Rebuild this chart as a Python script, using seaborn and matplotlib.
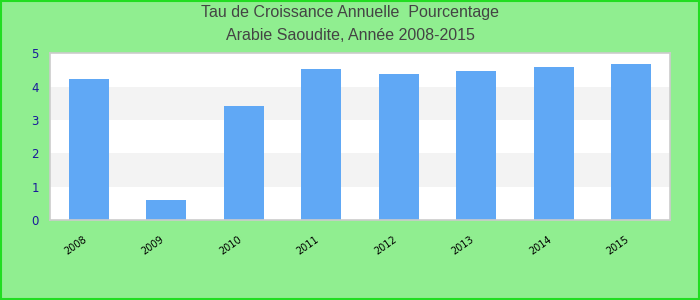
import matplotlib
matplotlib.use("Agg")
import matplotlib.pyplot as plt
import matplotlib.transforms as mtransforms
import seaborn as sns
import pandas as pd

years = ["2008", "2009", "2010", "2011", "2012", "2013", "2014", "2015"]
values = [4.23, 0.60, 3.42, 4.53, 4.38, 4.47, 4.60, 4.68]
yticks = [0, 1, 2, 3, 4, 5]

df = pd.DataFrame({"year": years, "value": values})

sns.set_style("white")
fig = plt.figure(figsize=(7, 3), dpi=100, facecolor="#90ee90")
ax = fig.add_axes([50/700, 80/300, 620/700, 166.7/300])
ax.set_facecolor("white")

# alternating bands
for i in range(0, 5):
    if i % 2 == 1:
        ax.axhspan(i, i + 1, color="#f3f3f3", zorder=0, lw=0)

sns.barplot(data=df, x="year", y="value", color="#60a8f5", saturation=1,
            width=0.52, ax=ax, zorder=2, linewidth=0, edgecolor="none")

ax.set_ylim(0, 5)
ax.set_xlim(-0.5, len(years) - 0.5)
ax.set_yticks(yticks)
ax.set_yticklabels([str(t) for t in yticks], color="#1a1a9a", fontsize=8.5,
                   family="DejaVu Sans")
ax.set_xticks(range(len(years)))
ax.set_xticklabels(years, rotation=35, ha="right", rotation_mode="anchor",
                   fontsize=7, color="black", family="DejaVu Sans")
ax.tick_params(axis="both", length=0)
ax.tick_params(axis="x", pad=10)
ax.tick_params(axis="y", pad=8)
offset = mtransforms.ScaledTranslation(-6/100, 0, fig.dpi_scale_trans)
for lab in ax.get_xticklabels():
    lab.set_transform(lab.get_transform() + offset)
ax.set_xlabel("")
ax.set_ylabel("")
for s in ax.spines.values():
    s.set_color("#cccccc")
    s.set_linewidth(1.2)

fig.text(0.5, 1 - 13/300, "Tau de Croissance Annuelle  Pourcentage", ha="center",
         va="center", fontsize=11.5, color="#444444", family="Liberation Sans")
fig.text(0.5, 1 - 36/300, "Arabie Saoudite, Année 2008-2015", ha="center",
         va="center", fontsize=11.5, color="#444444", family="Liberation Sans")

# outer border
fig.patches.append(plt.Rectangle((0.001, 0.002), 0.997, 0.995, transform=fig.transFigure,
                                 fill=False, edgecolor="#22dd22", linewidth=1.5))

fig.savefig("out.png", dpi=100, facecolor=fig.get_facecolor())
